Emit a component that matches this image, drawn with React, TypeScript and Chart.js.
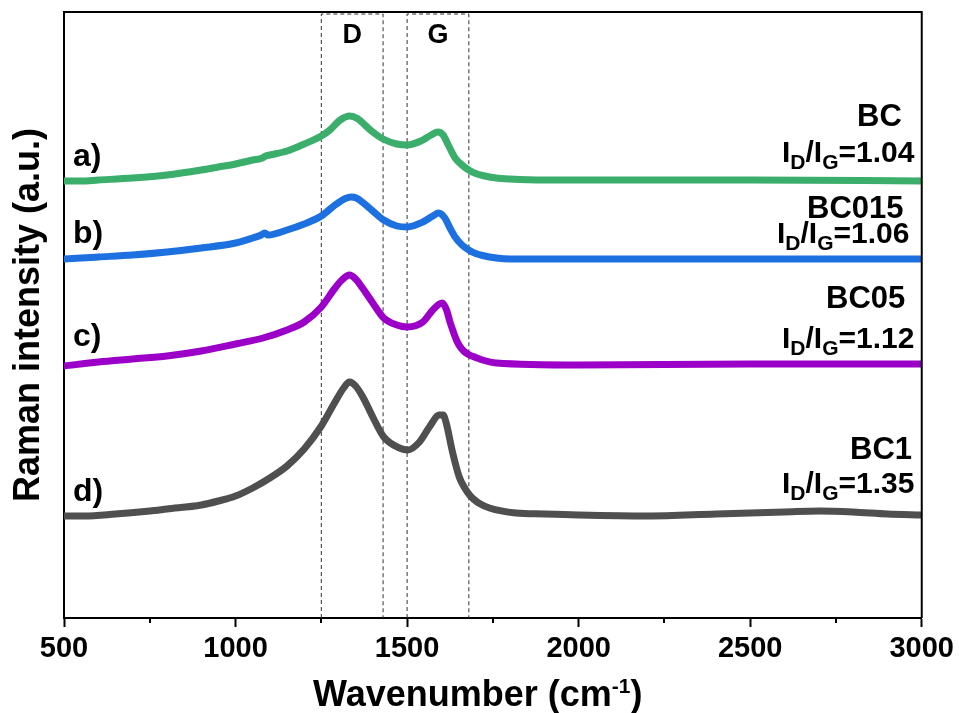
import React, { useEffect, useRef } from 'react';
import { Chart, registerables } from 'chart.js';

Chart.register(...registerables);

const FONT = '"Liberation Sans", Arial, Helvetica, sans-serif';

// ---- data (wavenumber in cm-1, intensity in arbitrary offset units) ----
const waveA = [500, 550, 600, 700, 800, 900, 950, 1000, 1050, 1078, 1088, 1100, 1150, 1200, 1250, 1275, 1305, 1333, 1355, 1380, 1400, 1430, 1470, 1500, 1540, 1570, 1590, 1605, 1620, 1640, 1660, 1682, 1700, 1720, 1760, 1800, 1900, 2000, 2500, 3000];
const intA = [437, 437, 438, 440, 443, 448, 451, 454, 458, 460, 462, 463, 467, 474, 482, 488, 498, 502, 499.5, 492, 486, 479, 474, 473, 477, 483, 486, 483, 473, 460, 453, 447.5, 444.5, 442.5, 440, 439, 438, 438, 438, 437];

const waveB = [500, 550, 600, 700, 800, 900, 1000, 1050, 1075, 1085, 1095, 1150, 1200, 1250, 1290, 1320, 1337, 1352, 1371, 1400, 1432, 1470, 1500, 1546, 1575, 1592, 1610, 1625, 1640, 1660, 1682, 1700, 1720, 1760, 1800, 2000, 2500, 3000];
const intB = [359, 360, 361, 363, 366, 370, 375, 380, 383, 385, 383, 388, 394, 402, 413, 419.5, 421, 420, 415.5, 407, 398, 392, 391, 396, 402, 405, 400, 390, 381, 373, 367.5, 364.5, 362.5, 360, 359, 359, 359, 359];

const waveC = [500, 600, 700, 800, 900, 1000, 1080, 1150, 1200, 1250, 1290, 1310, 1332, 1350, 1370, 1400, 1432, 1470, 1500, 1546, 1575, 1602, 1615, 1625, 1635, 1645, 1655, 1668, 1682, 1700, 1720, 1760, 2000, 2500, 3000];
const intC = [252, 256, 259, 262, 267, 274, 280, 288, 296, 311, 330, 338, 343, 339, 330, 315, 300, 293, 291, 296, 308, 315, 308, 296, 286, 277, 271, 266, 263, 260.5, 258, 255, 253, 254, 254];

const waveD = [500, 560, 650, 750, 800, 900, 950, 1000, 1050, 1100, 1150, 1200, 1250, 1290, 1315, 1332, 1350, 1371, 1400, 1432, 1478, 1502, 1536, 1565, 1594, 1605, 1614, 1633, 1652, 1668, 1682, 1695, 1711, 1740, 1817, 1900, 2000, 2200, 2400, 2600, 2700, 2800, 2900, 3000];
const intD = [102, 102, 104, 107, 109, 113, 117, 122, 130, 140, 152, 169, 192, 216, 230, 236, 232, 221, 201, 181, 170, 168, 176, 191, 203, 203, 195, 165, 141, 130, 123, 118.5, 114.5, 110, 105, 104, 103, 102, 104, 106, 107, 106, 104, 103];

const seriesColors = ['#3aae6a', '#1c70df', '#9c00c8', '#4f4f4f'];
const sampleLetters = ['a)', 'b)', 'c)', 'd)'];
const sampleNames = ['BC', 'BC015', 'BC05', 'BC1'];
const ratioValues = ['1.04', '1.06', '1.12', '1.35'];

const xMin = 500;
const xMax = 3000;
const xStep = 500;
const minorTicks = [750, 1250, 1750, 2250, 2750];
const yMin = 0;
const yMax = 606;

const dBand = [1250, 1430];
const gBand = [1500, 1680];
const bandTop = 604;
const bandLabels = ['D', 'G'];
const bandLabelX = [1340, 1590];

function zip(xs: number[], ys: number[]) {
  return xs.map((x, i) => ({ x, y: ys[i] }));
}

function bandRect(b: number[]) {
  return [
    { x: b[0], y: yMin },
    { x: b[0], y: bandTop },
    { x: b[1], y: bandTop },
    { x: b[1], y: yMin },
  ];
}

type Part = { t: string; size: number; dy?: number };

function drawRich(ctx: CanvasRenderingContext2D, parts: Part[], x: number, y: number) {
  let cx = x;
  for (const p of parts) {
    ctx.font = `bold ${p.size}px ${FONT}`;
    ctx.fillText(p.t, cx, y + (p.dy || 0));
    cx += ctx.measureText(p.t).width;
  }
}

const decorPlugin = {
  id: 'decor',
  afterDraw(chart: any) {
    const { ctx, chartArea, scales } = chart;
    const xs = scales.x;
    ctx.save();
    // frame top & right
    ctx.strokeStyle = '#000';
    ctx.lineWidth = 2;
    ctx.beginPath();
    ctx.moveTo(chartArea.left - 1, chartArea.top);
    ctx.lineTo(chartArea.right, chartArea.top);
    ctx.lineTo(chartArea.right, chartArea.bottom);
    ctx.stroke();
    // minor ticks
    ctx.beginPath();
    for (const v of minorTicks) {
      const px = Math.round(xs.getPixelForValue(v));
      ctx.moveTo(px, chartArea.bottom);
      ctx.lineTo(px, chartArea.bottom + 5);
    }
    ctx.stroke();

    ctx.fillStyle = '#000';
    ctx.textBaseline = 'alphabetic';

    // band labels
    ctx.textAlign = 'center';
    ctx.font = `bold 27px ${FONT}`;
    bandLabels.forEach((t, i) => {
      ctx.fillText(t, xs.getPixelForValue(bandLabelX[i]), 43);
    });
    ctx.textAlign = 'left';

    // sample letters
    const letterBase = [166, 243, 346, 501];
    ctx.font = `bold 32px ${FONT}`;
    sampleLetters.forEach((t, i) => ctx.fillText(t, 73, letterBase[i]));

    // sample names
    const nameX = [857, 807, 826, 850];
    const nameBase = [126, 218, 308, 459];
    ctx.font = `bold 31px ${FONT}`;
    sampleNames.forEach((t, i) => ctx.fillText(t, nameX[i], nameBase[i]));

    // ratios
    const ratioX = [782, 777, 782, 782];
    const ratioBase = [162, 243, 348, 493];
    ratioValues.forEach((r, i) => {
      drawRich(
        ctx,
        [
          { t: 'I', size: 30 },
          { t: 'D', size: 21, dy: 7 },
          { t: '/I', size: 30 },
          { t: 'G', size: 21, dy: 7 },
          { t: '=' + r, size: 30 },
        ],
        ratioX[i],
        ratioBase[i]
      );
    });

    // x title with superscript
    drawRich(
      ctx,
      [
        { t: 'Wavenumber (cm', size: 36 },
        { t: '-1', size: 21, dy: -13 },
        { t: ')', size: 36 },
      ],
      313,
      706
    );
    ctx.restore();
  },
};

export default function App() {
  const ref = useRef<HTMLCanvasElement | null>(null);

  useEffect(() => {
    if (!ref.current) return;
    Chart.defaults.font.family = FONT;
    const curves = [zip(waveA, intA), zip(waveB, intB), zip(waveC, intC), zip(waveD, intD)];
    const datasets: any[] = curves.map((d, i) => ({
      label: sampleNames[i],
      data: d,
      borderColor: seriesColors[i],
      backgroundColor: seriesColors[i],
      borderWidth: 7,
      pointRadius: 0,
      showLine: true,
      fill: false,
      cubicInterpolationMode: 'monotone',
      borderCapStyle: 'round',
      borderJoinStyle: 'round',
    }));
    [dBand, gBand].forEach((b, i) => {
      datasets.push({
        label: bandLabels[i],
        data: bandRect(b),
        borderColor: '#333',
        borderWidth: 1,
        borderDash: [4, 3],
        pointRadius: 0,
        showLine: true,
        fill: false,
        tension: 0,
      });
    });

    const chart = new Chart(ref.current, {
      type: 'scatter',
      data: { datasets },
      options: {
        animation: false,
        responsive: false,
        devicePixelRatio: 1,
        layout: { padding: { top: 12, right: 36, left: 0, bottom: 0 } },
        plugins: { legend: { display: false }, tooltip: { enabled: false } },
        scales: {
          x: {
            type: 'linear',
            min: xMin,
            max: xMax,
            afterFit: (s: any) => {
              s.height = 95;
            },
            ticks: {
              stepSize: xStep,
              autoSkip: false,
              maxRotation: 0,
              padding: 5,
              color: '#000',
              font: { size: 29, weight: 'bold', family: FONT },
              callback: (v: any) => String(v),
            },
            grid: {
              display: true,
              drawOnChartArea: false,
              drawTicks: true,
              tickLength: 9,
              tickWidth: 2,
              tickColor: '#000',
            },
            border: { display: true, color: '#000', width: 2 },
          },
          y: {
            type: 'linear',
            min: yMin,
            max: yMax,
            afterFit: (s: any) => {
              s.width = 64;
            },
            ticks: { display: false },
            grid: { display: false },
            border: { display: true, color: '#000', width: 2 },
            title: {
              display: true,
              text: 'Raman intensity (a.u.)',
              color: '#000',
              font: { size: 36, weight: 'bold', family: FONT, lineHeight: 1.2 },
              padding: { top: 7, bottom: 0 },
            },
          },
        },
      },
      plugins: [decorPlugin],
    } as any);
    return () => chart.destroy();
  }, []);

  return (
    <div style={{ position: 'fixed', left: 0, top: 0, width: 959, height: 713, background: '#fff' }}>
      <canvas ref={ref} width={959} height={713} style={{ display: 'block' }} />
    </div>
  );
}
